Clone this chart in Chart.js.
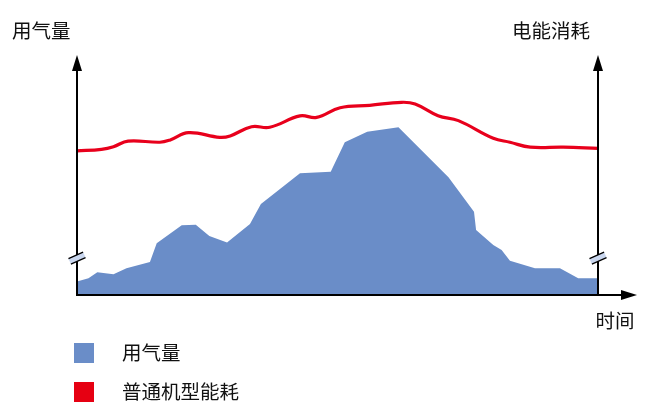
<!DOCTYPE html>
<html>
<head>
<meta charset="utf-8">
<script src="https://cdn.jsdelivr.net/npm/chart.js@4/dist/chart.umd.min.js"></script>
<style>
  html, body { margin: 0; padding: 0; background: #fff; }
  #wrap { width: 645px; height: 411px; }
</style>
</head>
<body>
<div id="wrap"><canvas id="c" width="645" height="411"></canvas></div>
<script>
// 用气量 (area) - time positions and values
const gasTime = [0, 2.2, 3.9, 7.0, 9.5, 14.0, 15.3, 20.1, 22.8, 25.4, 28.8, 33.2, 35.3, 42.8, 48.7, 51.4, 55.7, 61.7, 71.3, 76.2, 76.6, 79.9, 81.5, 83.1, 87.9, 92.7, 96.2, 100];
const gasValues = [5.7, 7.1, 9.7, 8.8, 11.4, 14.0, 22.0, 29.7, 29.9, 25.1, 22.3, 30.2, 38.7, 51.8, 52.5, 65.0, 69.5, 71.4, 50.1, 35.4, 27.7, 21.3, 19.1, 14.6, 11.4, 11.4, 7.1, 7.1];

// 普通机型能耗 (line)
const energyTime = [0, 4.7, 7.0, 9.8, 15.9, 17.9, 21.4, 27.4, 29.4, 33.5, 37.0, 42.8, 46.0, 50.5, 56.2, 62.3, 64.9, 69.3, 73.2, 79.9, 83.1, 87.0, 93.3, 100];
const energyValues = [61.3, 62.0, 63.1, 65.5, 65.0, 66.0, 69.1, 67.1, 67.7, 71.6, 71.4, 76.2, 75.6, 79.7, 80.7, 82.0, 81.3, 76.3, 74.2, 66.7, 65.0, 62.9, 62.9, 62.4];

const leftTitle = '用气量';
const rightTitle = '电能消耗';
const xTitle = '时间';
const legendLabels = ['用气量', '普通机型能耗'];
const gasColor = '#6a8dc8';
const energyColor = '#e8001c';
const FONT = '"Noto Sans CJK SC", sans-serif';

function drawArrow(ctx, x, y, dir) {
    ctx.beginPath();
    if (dir === 'up') {
        ctx.moveTo(x, y);
        ctx.lineTo(x - 5, y + 16);
        ctx.lineTo(x + 5, y + 16);
    } else {
        ctx.moveTo(x, y);
        ctx.lineTo(x - 16, y - 5);
        ctx.lineTo(x - 16, y + 5);
    }
    ctx.closePath();
    ctx.fill();
}

function drawBreak(ctx, x, y) {
    ctx.save();
    ctx.translate(x, y);
    ctx.rotate(-0.42);
    ctx.fillStyle = '#c9d6ee';
    ctx.fillRect(-8, -3, 16, 6);
    ctx.strokeStyle = '#000';
    ctx.lineWidth = 1.3;
    ctx.beginPath();
    ctx.moveTo(-8, -3); ctx.lineTo(8, -3);
    ctx.moveTo(-8, 3); ctx.lineTo(8, 3);
    ctx.stroke();
    ctx.restore();
}

const decorPlugin = {
    id: 'decor',
    afterDatasetsDraw(chart) {
        const ctx = chart.ctx;
        const a = chart.chartArea;
        const ys = chart.scales.y;
        ctx.save();
        ctx.strokeStyle = '#000';
        ctx.fillStyle = '#000';
        ctx.lineWidth = 2;
        // axes
        ctx.beginPath();
        ctx.moveTo(a.left, a.bottom); ctx.lineTo(a.left, 60);
        ctx.moveTo(a.right, a.bottom); ctx.lineTo(a.right, 60);
        ctx.moveTo(a.left - 1, a.bottom); ctx.lineTo(626, a.bottom);
        ctx.stroke();
        drawArrow(ctx, a.left, 55, 'up');
        drawArrow(ctx, a.right, 55, 'up');
        drawArrow(ctx, 637, a.bottom, 'right');
        // axis breaks
        const by = ys.getPixelForValue(15.7);
        drawBreak(ctx, a.left, by);
        drawBreak(ctx, a.right, by);
        // titles
        ctx.fillStyle = '#111';
        ctx.font = '19.5px ' + FONT;
        ctx.textBaseline = 'middle';
        ctx.textAlign = 'left';
        ctx.fillText(leftTitle, 12, 31);
        ctx.textAlign = 'center';
        ctx.fillText(rightTitle, 551, 31);
        ctx.fillText(xTitle, 615, 321);
        // legend
        ctx.textAlign = 'left';
        ctx.font = '19.5px ' + FONT;
        const colors = [gasColor, '#e60012'];
        legendLabels.forEach((lab, i) => {
            const ly = 353 + i * 39;
            ctx.fillStyle = colors[i];
            ctx.fillRect(74, ly - 10, 20, 20);
            ctx.fillStyle = '#111';
            ctx.fillText(lab, 122, ly);
        });
        ctx.restore();
    }
};

new Chart(document.getElementById('c').getContext('2d'), {
    type: 'line',
    data: {
        datasets: [{
            label: legendLabels[1],
            data: energyTime.map((t, i) => ({ x: t, y: energyValues[i] })),
            borderColor: energyColor,
            borderWidth: 3.2,
            pointRadius: 0,
            tension: 0.4,
            fill: false,
            order: 0
        }, {
            label: legendLabels[0],
            data: gasTime.map((t, i) => ({ x: t, y: gasValues[i] })),
            borderColor: gasColor,
            borderWidth: 0,
            backgroundColor: gasColor,
            pointRadius: 0,
            tension: 0,
            fill: 'origin',
            order: 1
        }]
    },
    options: {
        responsive: false,
        animation: false,
        layout: { padding: { left: 77, right: 47, top: 60, bottom: 116 } },
        plugins: { legend: { display: false }, tooltip: { enabled: false } },
        scales: {
            x: { type: 'linear', min: 0, max: 100, display: false },
            y: { min: 0, max: 100, display: false }
        }
    },
    plugins: [decorPlugin]
});
</script>
</body>
</html>
